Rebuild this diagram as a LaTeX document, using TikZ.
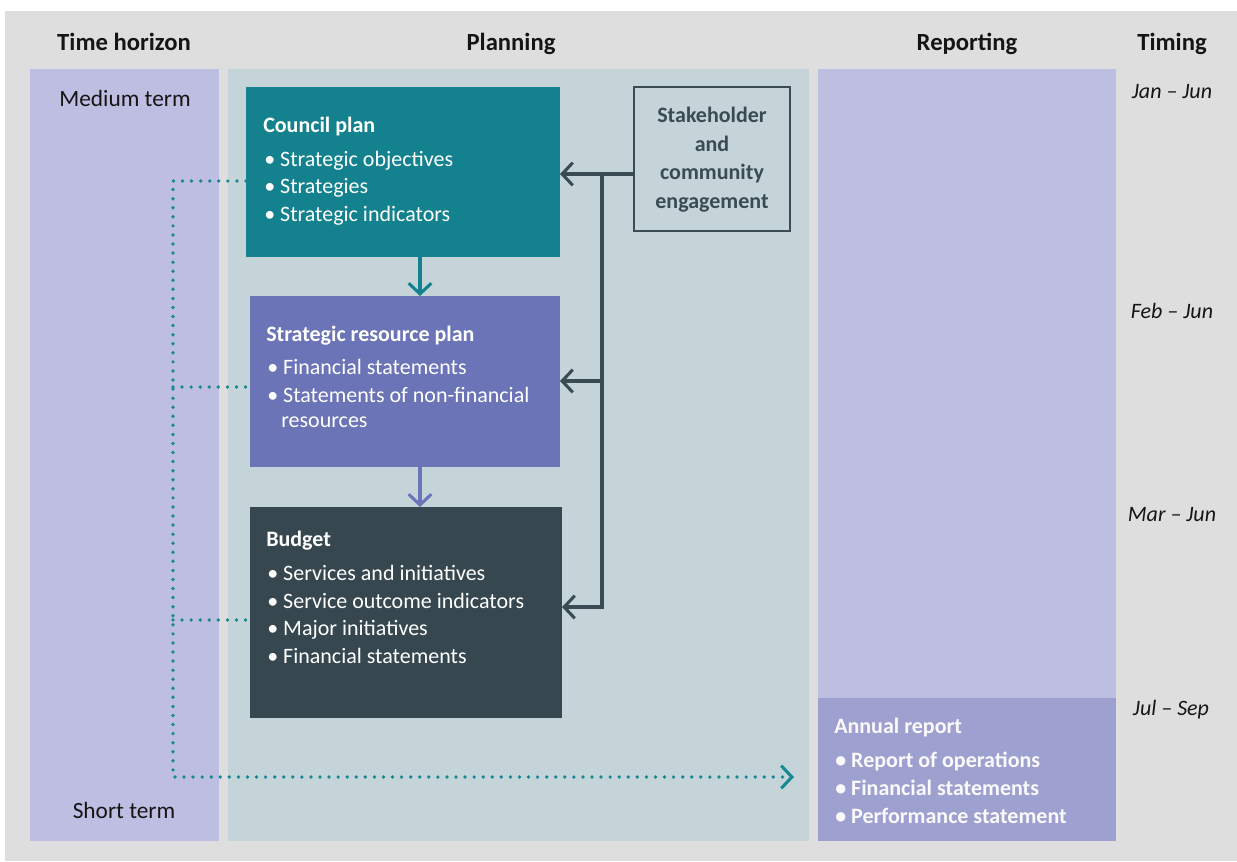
\documentclass[tikz,border=0pt]{standalone}
\usepackage{fontspec}
\setmainfont{Carlito}
\usetikzlibrary{arrows.meta,fit}
\definecolor{bggray}{HTML}{DEDEDE}
\definecolor{lav}{HTML}{BDBEE1}
\definecolor{planbg}{HTML}{C5D4D9}
\definecolor{teal}{HTML}{13828E}
\definecolor{srpcol}{HTML}{6B74B6}
\definecolor{budcol}{HTML}{36474F}
\definecolor{arcol}{HTML}{9EA0D0}
\definecolor{darkln}{HTML}{3B4B53}
\definecolor{dotteal}{HTML}{168A93}
\definecolor{hdr}{HTML}{151515}
\tikzset{
  chev/.tip={Straight Barb[length=8pt, width=17pt]},
  area/.style={inner sep=0pt, outer sep=0pt, draw=none},
  hdrtext/.style={anchor=base, text=hdr, font=\fontsize{18.5}{22}\selectfont\bfseries},
  termtext/.style={anchor=base, text=hdr, font=\fontsize{17.5}{21}\selectfont},
  timetext/.style={anchor=base, text=hdr, font=\fontsize{16.5}{20}\selectfont\itshape},
  boxtitle/.style={anchor=base west, text=white, inner sep=0pt, font=\fontsize{16.5}{20}\selectfont\bfseries},
  boxitem/.style={anchor=base west, text=white, inner sep=0pt, font=\fontsize{16.5}{20}\selectfont},
  aritem/.style={anchor=base west, text=white!95!arcol, inner sep=0pt, font=\fontsize{16.5}{20}\selectfont\bfseries},
  darkarr/.style={draw=darkln, line width=2.3pt, -{chev}},
  darkline/.style={draw=darkln, line width=2.3pt},
  dotln/.style={draw=dotteal, line width=2.8pt, line cap=round, dash pattern=on 0pt off 6.8pt},
}
\begin{document}
\begin{tikzpicture}[x=0.75pt,y=-0.75pt]
\useasboundingbox (0,0) rectangle (1237,861);
\fill[white] (0,0) rectangle (1237,861);
\node[area, fill=bggray, fit={(5,11)(1237,861)}] (bg) {};
% columns
\node[area, fill=lav, fit={(30,69)(219,841)}] (thcol) {};
\node[area, fill=planbg, fit={(228,69)(809,841)}] (plcol) {};
\node[area, fill=lav, fit={(818,69)(1116,698)}] (rpcol) {};
\node[area, fill=arcol, fit={(818,698)(1116,841)}] (ar) {};
% headers
\node[hdrtext] (h1) at (124,50) {Time horizon};
\node[hdrtext] (h2) at (511,50) {Planning};
\node[hdrtext] (h3) at (967,50) {Reporting};
\node[hdrtext] (h4) at (1172,50) {Timing};
% terms
\node[termtext] (mt) at (125,106) {Medium term};
\node[termtext] (st) at (124,818) {Short term};
% timing
\node[timetext] (t1) at (1172,98) {Jan – Jun};
\node[timetext] (t2) at (1172,318) {Feb – Jun};
\node[timetext] (t3) at (1172,521) {Mar – Jun};
\node[timetext] (t4) at (1171,715) {Jul – Sep};
% boxes
\node[area, fill=teal, fit={(246,87)(560,257)}] (cp) {};
\node[area, fill=srpcol, fit={(250,296)(560,467)}] (srp) {};
\node[area, fill=budcol, fit={(250,507)(562,718)}] (bud) {};
\node[inner sep=0pt, outer sep=0pt, draw=darkln, line width=1.6pt, fit={(634,87)(790,231)}] (sce) {};
\node[align=center, text=darkln, font=\fontsize{16.5}{21.4}\selectfont\bfseries] (scet) at (712,159.5) {Stakeholder\\and\\community\\engagement};
% council plan text
\node[boxtitle] (cpt) at (263,132) {Council plan};
\node[boxitem] (cp1) at (264,166) {• Strategic objectives};
\node[boxitem] (cp2) at (264,193) {• Strategies};
\node[boxitem] (cp3) at (264,221) {• Strategic indicators};
% SRP text
\node[boxtitle] (srpt) at (266,341) {Strategic resource plan};
\node[boxitem] (srp1) at (267,374) {• Financial statements};
\node[boxitem] (srp2) at (267,402) {• Statements of non-financial};
\node[boxitem] (srp3) at (281,427) {resources};
% budget text
\node[boxtitle] (budt) at (266,546) {Budget};
\node[boxitem] (bud1) at (267,580) {• Services and initiatives};
\node[boxitem] (bud2) at (267,608) {• Service outcome indicators};
\node[boxitem] (bud3) at (267,635) {• Major initiatives};
\node[boxitem] (bud4) at (267,663) {• Financial statements};
% annual report text
\node[aritem] (art) at (834,733) {Annual report};
\node[aritem] (ar1) at (835,767) {• Report of operations};
\node[aritem] (ar2) at (835,795) {• Financial statements};
\node[aritem] (ar3) at (835,823) {• Performance statement};
% connectors: stakeholder engagement
\coordinate (j1) at (602,174);
\coordinate (j2) at (602,381);
\coordinate (j3) at (602,607);
\draw[darkarr] (sce.west |- j1) -- (cp.east |- j1);
\draw[darkline] (j1) -- (j2);
\draw[darkarr] (j2) -- (j3) -- (bud.east |- j3);
\draw[darkarr] (j2) -- (srp.east |- j2);
% flow arrows
\coordinate (ax) at (420,0);
\draw[draw=teal, line width=2.3pt, -{chev}] (cp.south -| ax) -- (srp.north -| ax);
\draw[draw=srpcol, line width=2.3pt, -{chev}] (srp.south -| ax) -- (bud.north -| ax);
% dotted time lines
\coordinate (d1) at (173,181);
\coordinate (d2) at (173,387);
\coordinate (d3) at (173,620);
\coordinate (d4) at (173,777);
\coordinate (dend) at (794,777);
\draw[dotln] (cp.west |- d1) -- (d1) -- (d4) -- (dend);
\draw[dotln] (d2) -- (srp.west |- d2);
\draw[dotln] (d3) -- (bud.west |- d3);
\draw[draw=dotteal, line width=2.3pt, -{chev}] ([xshift=-2pt]dend) -- (dend);
\end{tikzpicture}
\end{document}
